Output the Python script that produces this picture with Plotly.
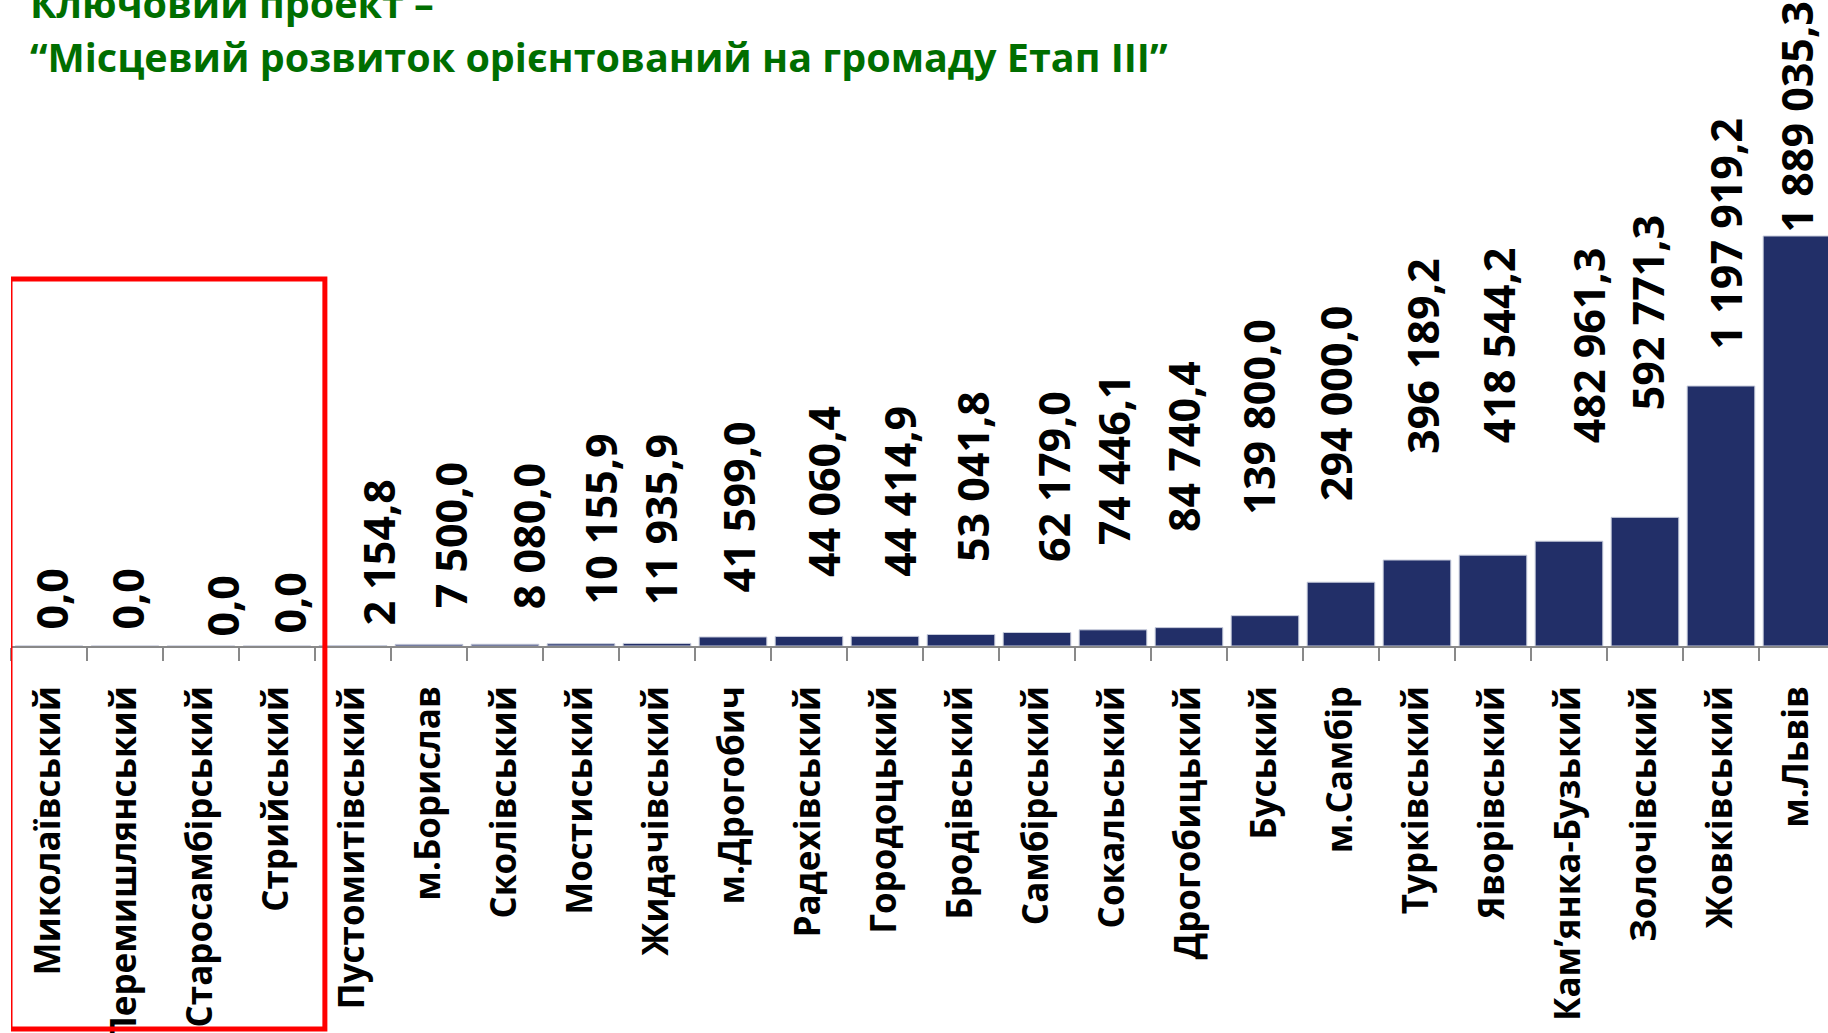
import plotly.graph_objects as go

categories = ["Миколаївський", "Перемишлянський", "Старосамбірський", "Стрийський",
              "Пустомитівський", "м.Борислав", "Сколівський", "Мостиський", "Жидачівський",
              "м.Дрогобич", "Радехівський", "Городоцький", "Бродівський", "Самбірський",
              "Сокальський", "Дрогобицький", "Буський", "м.Самбір", "Турківський",
              "Яворівський", "Кам’янка-Бузький", "Золочівський", "Жовківський", "м.Львів"]
values = [0.0, 0.0, 0.0, 0.0, 2154.8, 7500.0, 8080.0, 10155.9, 11935.9, 41599.0,
          44060.4, 44414.9, 53041.8, 62179.0, 74446.1, 84740.4, 139800.0, 294000.0,
          396189.2, 418544.2, 482961.3, 592771.3, 1197919.2, 1889035.3]

# label placement offsets (pixels), as in the original slide
label_dx = [2, 2, 21, 12, 26, 21, 23, 19, 4, 5, 15, 15, 12, 16, 0, -6, -6, -6, 5, 5, 19, 2, 5, 0]
label_dy = [18, 18, 11, 14, 22, 38, 37, 41, 40, 46, 61, 61, 74, 72, 86, 98, 103, 83, 108, 114, 100, 109, 39, 6]

title_line1 = "Ключовий проект –"
title_line2 = "“Місцевий розвиток орієнтований на громаду Етап ІІІ”"

FONT = "Open Sans"
BAR = "rgb(34,47,104)"
GREEN = "rgb(0,110,0)"


def fmt(v):
    return f"{v:,.1f}".replace(",", " ").replace(".", ",")


fig = go.Figure(go.Bar(
    x=categories, y=values,
    marker=dict(color=BAR, line=dict(color="rgb(200,205,220)", width=1)),
    hoverinfo="skip",
))

for c, v, dx, dy in zip(categories, values, label_dx, label_dy):
    fig.add_annotation(x=c, y=v, xref="x", yref="y", text=fmt(v), showarrow=False,
                       textangle=-90, xanchor="center", yanchor="bottom",
                       xshift=dx, yshift=dy - 3, borderpad=0,
                       font=dict(family=FONT, size=43, color="black", weight="bold"))

fig.add_annotation(x=0, y=1, xref="paper", yref="paper", xanchor="left", yanchor="bottom",
                   text=title_line1, showarrow=False, xshift=17, yshift=-32,
                   font=dict(family=FONT, size=39.5, color=GREEN, weight="bold"))
fig.add_annotation(x=0, y=1, xref="paper", yref="paper", xanchor="left", yanchor="bottom",
                   text=title_line2, showarrow=False, xshift=17, yshift=-86,
                   font=dict(family=FONT, size=39.5, color=GREEN, weight="bold"))

fig.add_shape(type="rect", xref="x", yref="paper",
              x0=-0.513, x1=3.63, y0=-0.593, y1=0.568,
              line=dict(color="rgb(255,0,0)", width=5), fillcolor="rgba(0,0,0,0)")

fig.update_layout(
    width=1828, height=1033,
    margin=dict(l=11, r=0, t=0, b=387, autoexpand=False),
    paper_bgcolor="white", plot_bgcolor="white",
    bargap=0.11, showlegend=False,
    xaxis=dict(type="category", categoryorder="array", categoryarray=categories,
               range=[-0.5, 23.408], showline=True, linecolor="rgb(137,137,137)", linewidth=2,
               ticks="outside", tickson="boundaries", ticklen=13, tickwidth=2,
               tickcolor="rgb(137,137,137)", tickangle=-90, ticklabelstandoff=24,
               tickfont=dict(family=FONT, size=35, color="black", weight="bold"),
               showgrid=False, fixedrange=True, automargin=False),
    yaxis=dict(range=[0, 2976400], visible=False, showgrid=False, fixedrange=True,
               automargin=False),
)

fig.write_html("out.html", post_script="document.body.style.margin='0px';",
               config={"displayModeBar": False})
